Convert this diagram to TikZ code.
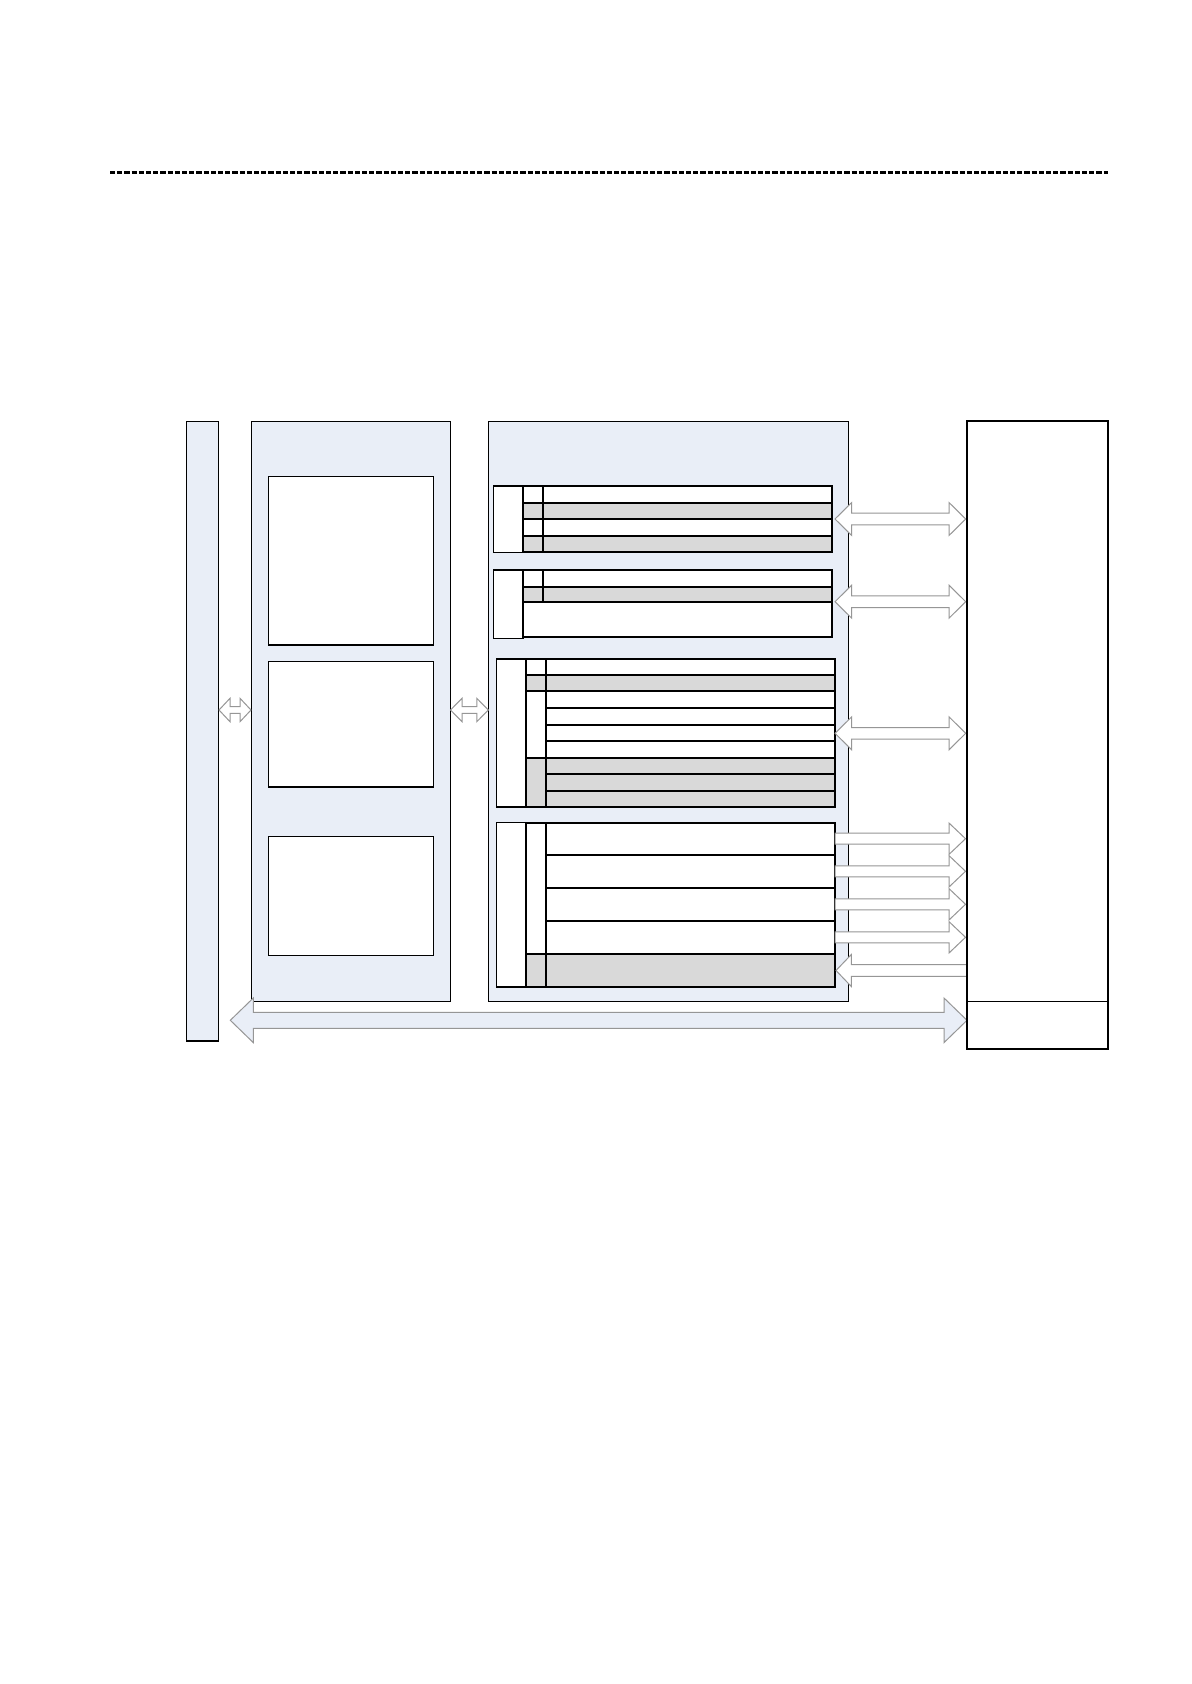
\documentclass[tikz,border=0pt]{standalone}
\definecolor{panelblue}{RGB}{233,238,247}
\definecolor{rowgray}{RGB}{217,217,217}
\definecolor{arrowline}{RGB}{150,150,150}
\newcommand\myDblArrow[7][]{%
  \path[blockarrow,#1] (#2,#4) -- ({#2+#5},{#4-#6}) -- ({#2+#5},{#4-#7}) -- ({#3-#5},{#4-#7}) -- ({#3-#5},{#4-#6}) -- (#3,#4) -- ({#3-#5},{#4+#6}) -- ({#3-#5},{#4+#7}) -- ({#2+#5},{#4+#7}) -- ({#2+#5},{#4+#6}) -- cycle;}
\newcommand\myRArrow[7][]{%
  \path[blockarrow,#1] (#2,{#4-#7}) -- ({#3-#5},{#4-#7}) -- ({#3-#5},{#4-#6}) -- (#3,#4) -- ({#3-#5},{#4+#6}) -- ({#3-#5},{#4+#7}) -- (#2,{#4+#7}) -- cycle;}
\newcommand\myLArrow[7][]{%
  \path[blockarrow,#1] (#2,#4) -- ({#2+#5},{#4-#6}) -- ({#2+#5},{#4-#7}) -- (#3,{#4-#7}) -- (#3,{#4+#7}) -- ({#2+#5},{#4+#7}) -- ({#2+#5},{#4+#6}) -- cycle;}
\begin{document}
\begin{tikzpicture}[x=0.5pt,y=-0.5pt,
  panel/.style={draw=black,line width=0.65pt,fill=panelblue},
  ibox/.style={draw=black,line width=0.65pt,fill=white},
  rowline/.style={draw=black,line width=1.05pt},
  blockarrow/.style={draw=arrowline,line width=0.5pt,fill=white,line join=miter},
  bigarrow/.style={fill=panelblue},
  rightbox/.style={draw=black,line width=1pt,fill=white}]
\useasboundingbox (0,0) rectangle (1191,1684);
\fill[white] (0,0) rectangle (1191,1684);

% dashed header line
\draw[line width=1.1pt,dash pattern=on 2.6pt off 1pt] (110,172.5) -- (1108.3,172.5);

% left column and panels
\draw[panel] (186.5,421.7) rectangle (218.5,1041);
\draw[panel] (251.3,421.7) rectangle (450.5,1001.3);
\draw[panel] (488.3,421.7) rectangle (848.3,1001.3);

% middle panel inner boxes
\draw[ibox] (268.3,476.3) rectangle (433.5,645);
\draw[ibox] (268.3,661.5) rectangle (433.5,787);
\draw[ibox] (268.3,836.3) rectangle (433.5,955.5);

% group 1
\draw[ibox] (493.3,486) rectangle (522.7,552.3);
\fill[white] (522.7,486) rectangle (832.3,502.7);
\fill[rowgray] (522.7,502.7) rectangle (832.3,519);
\fill[white] (522.7,519) rectangle (832.3,535.7);
\fill[rowgray] (522.7,535.7) rectangle (832.3,552.3);
\draw[rowline] (522.7,486) rectangle (832.3,552.3);
\draw[rowline] (522.7,502.7) -- (832.3,502.7) (522.7,519) -- (832.3,519) (522.7,535.7) -- (832.3,535.7);
\draw[rowline] (543.3,486) -- (543.3,552.3);

% group 2
\draw[ibox] (493.3,570) rectangle (523,638.3);
\fill[white] (523,570) rectangle (832.3,586.7);
\fill[rowgray] (523,586.7) rectangle (832.3,602.3);
\fill[white] (523,602.3) rectangle (832.3,637);
\draw[rowline] (523,570) rectangle (832.3,637);
\draw[rowline] (523,586.7) -- (832.3,586.7) (523,602.3) -- (832.3,602.3);
\draw[rowline] (543.3,570) -- (543.3,602.3);

% group 3
\draw[ibox] (496.3,659) rectangle (526,807);
\fill[white] (526,659) rectangle (835,674.7);
\fill[rowgray] (526,674.7) rectangle (835,691.3);
\fill[white] (526,691.3) rectangle (835,757.7);
\fill[rowgray] (526,757.7) rectangle (835,807);
\draw[rowline] (526,659) rectangle (835,807);
\draw[rowline] (526,674.7) -- (835,674.7) (526,691.3) -- (835,691.3) (526,757.7) -- (835,757.7);
\draw[rowline] (546,708) -- (835,708) (546,724.7) -- (835,724.7) (546,740.7) -- (835,740.7)
  (546,774.3) -- (835,774.3) (546,791) -- (835,791);
\draw[rowline] (546,659) -- (546,807);

% group 4
\draw[ibox] (496.4,822.7) rectangle (526.4,987);
\fill[white] (526.4,822.7) rectangle (834.8,954);
\fill[rowgray] (526.4,954) rectangle (834.8,987);
\draw[rowline] (526.4,822.7) rectangle (834.8,987);
\draw[rowline] (526.4,954) -- (834.8,954);
\draw[rowline] (546,854.7) -- (834.8,854.7) (546,888) -- (834.8,888) (546,920.7) -- (834.8,920.7);
\draw[rowline] (546,822.7) -- (546,987);

% small connectors between columns
\myDblArrow{219}{251}{710}{11}{11.7}{3.3}
\myDblArrow{450.5}{488.3}{710}{11.5}{11.7}{3.3}

% connectors to right box
\myDblArrow{835}{965.7}{519}{16.7}{16.5}{5.8}
\myDblArrow{835}{965.7}{601.7}{16.7}{16.5}{5.8}
\myDblArrow{835}{965.7}{733.3}{16.7}{16.5}{5.8}
\myRArrow{835}{965.5}{838.7}{16.5}{15.7}{5.5}
\myRArrow{835}{965.5}{871.3}{16.5}{15.7}{5.5}
\myRArrow{835}{965.5}{904.3}{16.5}{15.7}{5.5}
\myRArrow{835}{965.5}{937.3}{16.5}{15.7}{5.5}
\myLArrow{836}{966.7}{970.5}{15.3}{16}{5.8}

% big bottom arrow
\myDblArrow[bigarrow]{230.3}{967}{1020.3}{23}{22.3}{8}

% right box
\draw[rightbox] (966.7,421) rectangle (1108.3,1049.3);
\draw[line width=0.7pt] (966.7,1001.3) -- (1108.3,1001.3);
\end{tikzpicture}
\end{document}
